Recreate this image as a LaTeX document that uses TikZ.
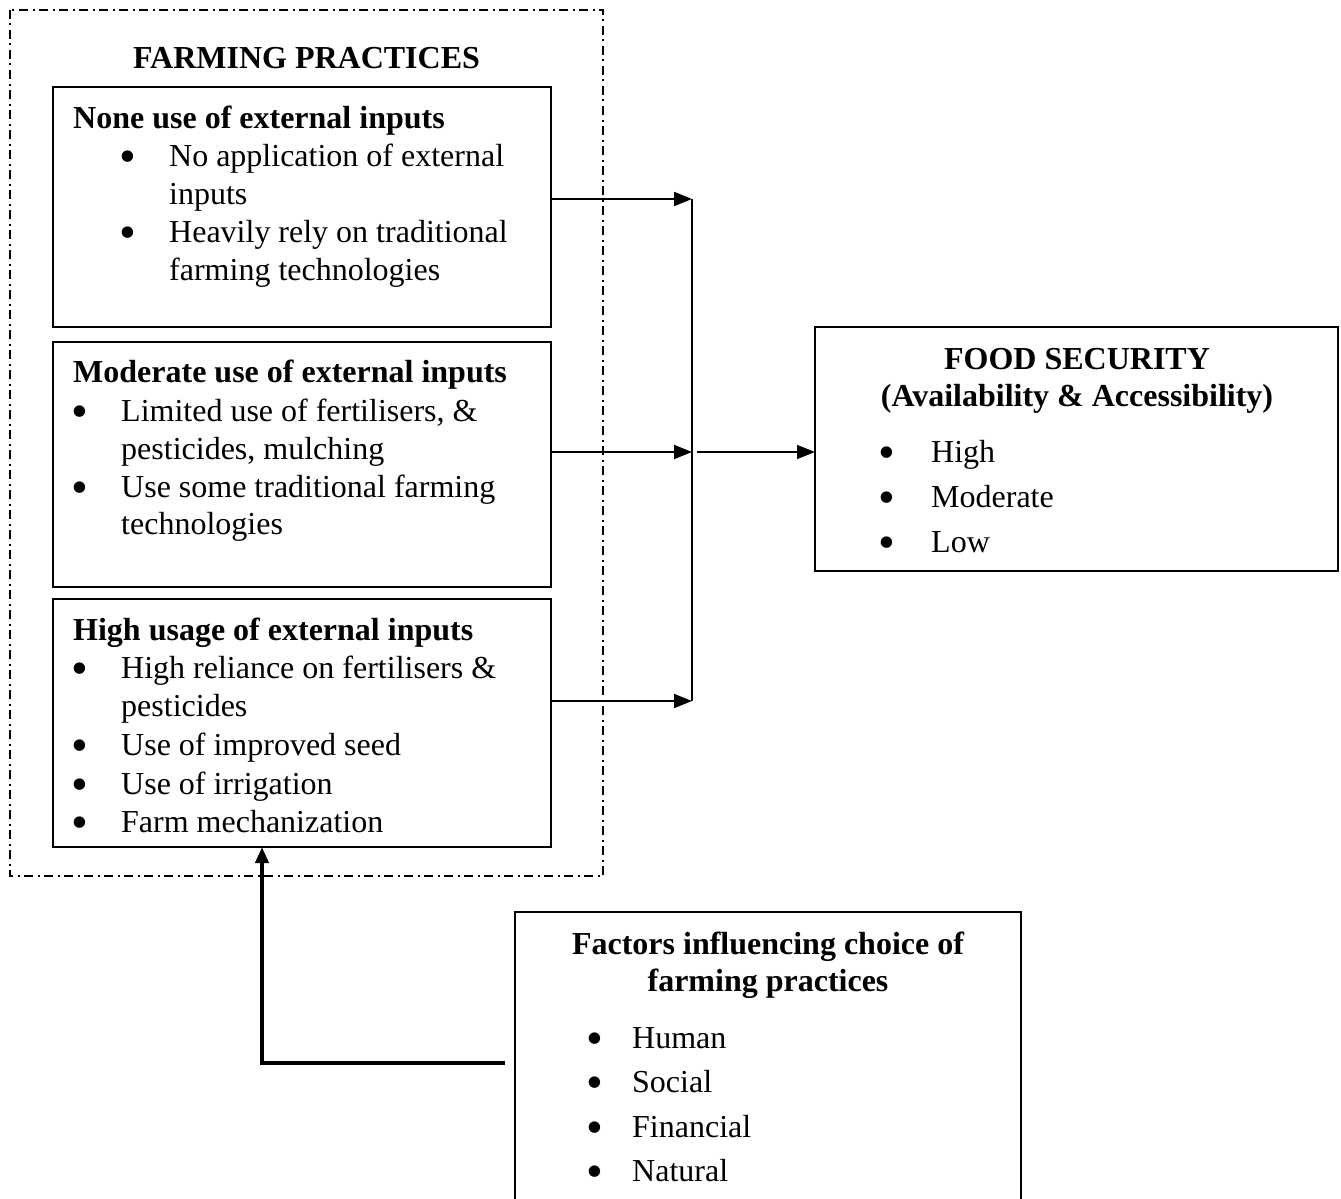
\documentclass[tikz,border=0pt]{standalone}
\usepackage{fontspec}
\setmainfont{Liberation Serif}
\usetikzlibrary{arrows.meta}
\newcommand\mybul[1]{\makebox[#1][l]{\smash{\raisebox{-6pt}{\scalebox{1.5}{•}}}}}
\begin{document}
\begin{tikzpicture}[x=1pt,y=-1pt,
  every node/.style={inner sep=0pt},
  txt/.style={anchor=base west,font=\fontsize{32}{38}\selectfont},
  hdr/.style={anchor=base west,font=\fontsize{32}{38}\selectfont\bfseries},
  ctr/.style={anchor=base,font=\fontsize{32}{38}\selectfont\bfseries},
  boxnode/.style={draw,line width=2pt,anchor=north west,outer sep=0pt},
  conn/.style={line width=2pt,-{Triangle[length=18pt,width=14pt]}},
  thinconn/.style={line width=1.3pt,-{Triangle[length=18pt,width=14pt]}},
  fbconn/.style={line width=4pt,-{Triangle[length=16pt,width=13pt]}},
  frame/.style={line width=2pt,dash pattern=on 9pt off 4.5pt on 2pt off 4.5pt}]
\useasboundingbox (0,0) rectangle (1341,1199);
\clip (0,0) rectangle (1341,1199);
\fill[white] (0,0) rectangle (1341,1199);

% outer dash-dot frame
\draw[frame] (10,10) rectangle (603,876);
\node[ctr] (fp) at (306.5,68) {FARMING PRACTICES};

% box 1
\node[boxnode,minimum width=498pt,minimum height=240pt] (b1) at (53,87) {};
\node[hdr] (h1) at (73,128) {None use of external inputs};
\node[txt] (t11) at (119.4,166) {\mybul{49.6pt}No application of external};
\node[txt] (t12) at (169,204) {inputs};
\node[txt] (t13) at (119.4,242) {\mybul{49.6pt}Heavily rely on traditional};
\node[txt] (t14) at (169,280) {farming technologies};

% box 2
\node[boxnode,minimum width=498pt,minimum height=245pt] (b2) at (53,342) {};
\node[hdr] (h2) at (73,382) {Moderate use of external inputs};
\node[txt] (t21) at (71.4,421) {\mybul{49.6pt}Limited use of fertilisers, \&};
\node[txt] (t22) at (121,459) {pesticides, mulching};
\node[txt] (t23) at (71.4,497) {\mybul{49.6pt}Use some traditional farming};
\node[txt] (t24) at (121,534) {technologies};

% box 3
\node[boxnode,minimum width=498pt,minimum height=248pt] (b3) at (53,599) {};
\node[hdr] (h3) at (73,640) {High usage of external inputs};
\node[txt] (t31) at (71.4,678) {\mybul{49.6pt}High reliance on fertilisers \&};
\node[txt] (t32) at (121,716) {pesticides};
\node[txt] (t33) at (71.4,755) {\mybul{49.6pt}Use of improved seed};
\node[txt] (t34) at (71.4,794) {\mybul{49.6pt}Use of irrigation};
\node[txt] (t35) at (71.4,832) {\mybul{49.6pt}Farm mechanization};

% food security
\node[boxnode,minimum width=523pt,minimum height=244pt] (food) at (815,327) {};
\node[ctr] (f1) at (1077,369) {FOOD SECURITY};
\node[ctr] (f2) at (1077,406) {(Availability \& Accessibility)};
\node[txt] (f3) at (878.4,462) {\mybul{52.6pt}High};
\node[txt] (f4) at (878.4,507) {\mybul{52.6pt}Moderate};
\node[txt] (f5) at (878.4,552) {\mybul{52.6pt}Low};

% factors
\node[boxnode,minimum width=506pt,minimum height=330pt] (fac) at (515,912) {};
\node[ctr] (g1) at (768,954) {Factors influencing choice of};
\node[ctr] (g2) at (768,991) {farming practices};
\node[txt] (g3) at (586.4,1048) {\mybul{45.6pt}Human};
\node[txt] (g4) at (586.4,1092) {\mybul{45.6pt}Social};
\node[txt] (g5) at (586.4,1137) {\mybul{45.6pt}Financial};
\node[txt] (g6) at (586.4,1181) {\mybul{45.6pt}Natural};

% connectors
\coordinate (j1) at (692,199);
\coordinate (j2) at (692,452);
\coordinate (j3) at (692,701);
\draw[conn] (b1.east |- j1) -- (j1);
\draw[conn] (b2.east |- j2) -- (j2);
\draw[conn] (b3.east |- j3) -- (j3);
\draw[line width=1.6pt] (j1) -- (j3);
\draw[thinconn] ([xshift=5pt]j2) -- (food.west |- j2);

\coordinate (fb) at (505,1063);
\coordinate (fbc) at (262,1063);
\draw[fbconn] (fb) -- (fbc) -- (fbc |- b3.south);
\end{tikzpicture}
\end{document}
